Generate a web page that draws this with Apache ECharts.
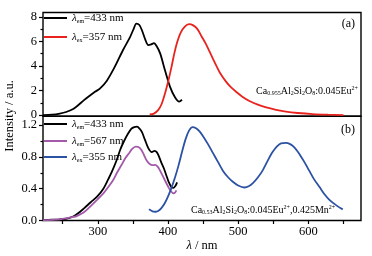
<!DOCTYPE html>
<html><head><meta charset="utf-8">
<script src="https://cdn.jsdelivr.net/npm/echarts@6/dist/echarts.min.js"></script>
<style>html,body{margin:0;padding:0;background:#fff}#c{width:372px;height:256px}</style>
</head><body><div id="c"></div>
<script>
// Panel (a): Ca0.955Al2Si2O8:0.045Eu2+
const aEmX = [222,235,246,255,265,272,280,289,296,303,313,324,336,346,351,355,359,363,368,372,376,380,384,389,396,403,410,416,420];
const aEmY = [0,0.03,0.12,0.25,0.5,0.8,1.2,1.6,1.9,2.15,2.8,3.9,5.3,6.35,7.0,7.45,7.35,6.9,6.1,5.7,5.75,5.85,5.6,5.0,3.6,2.3,1.45,1.1,1.25];
const aExX = [374,380,386,391,396,401,405,409,413,418,424,430,436,442,448,454,459,464,469,474,483,490,497,506,516,528,540,554,568,585,606,628,650];
const aExY = [0.05,0.12,0.4,0.9,1.8,2.9,3.9,5.0,5.9,6.7,7.2,7.4,7.3,7.0,6.4,5.8,5.2,4.6,4.0,3.45,2.7,2.25,1.9,1.5,1.15,0.85,0.62,0.43,0.28,0.17,0.08,0.03,0.0];
// Panel (b): Ca0.53Al2Si2O8:0.045Eu2+,0.425Mn2+
const bEm433X = [222,235,246,256,265,272,280,290,299,308,315,320,327,332,337,343,348,352,356,360,363,367,372,377,381,384,387,390,394,398,401,405,408,411,413];
const bEm433Y = [0.005,0.01,0.015,0.025,0.05,0.09,0.15,0.23,0.30,0.40,0.52,0.61,0.76,0.89,0.99,1.09,1.155,1.175,1.18,1.15,1.11,1.02,0.91,0.86,0.875,0.86,0.81,0.74,0.66,0.56,0.485,0.42,0.41,0.44,0.48];
const bEm567X = [222,240,256,265,270,278,284,291,299,308,315,322,328,334,339,344,349,354,358,362,366,370,374,378,382,385,388,392,396,400,404,408,410,412];
const bEm567Y = [0.003,0.01,0.03,0.045,0.056,0.09,0.13,0.19,0.26,0.34,0.42,0.51,0.61,0.70,0.78,0.84,0.9,0.93,0.925,0.89,0.82,0.75,0.71,0.695,0.70,0.68,0.64,0.57,0.50,0.43,0.37,0.34,0.35,0.38];
const bEx355X = [373,378,382,386,390,395,400,405,410,415,420,425,430,435,440,445,450,457,464,471,478,485,492,500,509,515,521,528,535,542,549,555,561,568,574,580,587,594,601,608,616,623,630,640,649];
const bEx355Y = [0.14,0.115,0.11,0.12,0.15,0.21,0.30,0.41,0.54,0.69,0.86,1.02,1.13,1.175,1.16,1.12,1.06,0.96,0.85,0.74,0.63,0.55,0.49,0.44,0.415,0.43,0.47,0.54,0.63,0.75,0.86,0.93,0.97,0.975,0.96,0.92,0.84,0.74,0.63,0.52,0.42,0.33,0.26,0.19,0.14];

const xTickLabels = [300,400,500,600];
const xTicks = [250,300,350,400,450,500,550,600,650];
const aYLabels = [0,2,4,6,8];
const aYMinor = [1,3,5,7];
const bYLabels = [0,0.4,0.8,1.2];
const bYMinor = [0.2,0.6,1.0];

const zip = (xs, ys) => xs.map((x, i) => [x, ys[i]]);
const FF = '"Liberation Serif", "DejaVu Serif", serif';
const chart = echarts.init(document.getElementById('c'), null, {renderer: 'canvas'});

const legendRich = {
  i: {fontStyle: 'italic', fontFamily: FF, fontSize: 11, lineHeight: 12, verticalAlign: 'bottom'},
  s: {fontFamily: FF, fontSize: 6, lineHeight: 6, verticalAlign: 'bottom'},
  t: {fontFamily: FF, fontSize: 11, lineHeight: 12, verticalAlign: 'bottom'}
};
const legendNames = {
  'aEm': '{i|λ}{s|em}{t|=433 nm}',
  'aEx': '{i|λ}{s|ex}{t|=357 nm}',
  'bEm433': '{i|λ}{s|em}{t|=433 nm}',
  'bEm567': '{i|λ}{s|em}{t|=567 nm}',
  'bEx355': '{i|λ}{s|ex}{t|=355 nm}'
};
function mkLegend(name, top) {
  return {
    data: [name], left: 44, top: top, icon: 'rect', itemWidth: 23, itemHeight: 2,
    padding: 0, itemGap: 4, selectedMode: false,
    formatter: n => legendNames[n],
    textStyle: {fontFamily: FF, fontSize: 11, color: '#000', rich: legendRich}
  };
}

const yLabelStyle = {fontFamily: FF, fontSize: 12.5, color: '#000', margin: 6};
const commonX = {type: 'value', min: 222, max: 675, splitLine: {show: false}, axisLine: {show: false}};

const fRich = {
  b: {fontFamily: FF, fontSize: 10, lineHeight: 11, verticalAlign: 'bottom'},
  sub: {fontFamily: FF, fontSize: 6, lineHeight: 6, verticalAlign: 'bottom'},
  sup: {fontFamily: FF, fontSize: 6, lineHeight: 6, verticalAlign: 'top'}
};

const lineSeries = (name, data, color, xi, yi) => ({
  name, type: 'line', data, xAxisIndex: xi, yAxisIndex: yi, smooth: 0.3,
  showSymbol: false, symbol: 'none', lineStyle: {color, width: 1.8}, itemStyle: {color},
  silent: true, animation: false
});

chart.setOption({
  backgroundColor: '#fff',
  animation: false,
  grid: [
    {left: 43, right: 11, top: 12.5, height: 103.8, show: true, borderColor: '#000', borderWidth: 1.4, backgroundColor: 'transparent'},
    {left: 43, right: 11, top: 116.3, bottom: 35.5, show: true, borderColor: '#000', borderWidth: 1.4, backgroundColor: 'transparent'}
  ],
  xAxis: [
    Object.assign({}, commonX, {gridIndex: 0, axisLabel: {show: false}, axisTick: {show: false}}),
    Object.assign({}, commonX, {gridIndex: 1,
      axisLabel: {customValues: xTickLabels, fontFamily: FF, fontSize: 12.5, color: '#000', margin: 5},
      axisTick: {customValues: xTicks, length: 3.5, lineStyle: {color: '#000', width: 1.2}},
      name: '{i|λ} / nm', nameLocation: 'middle', nameGap: 17,
      nameTextStyle: {fontFamily: FF, fontSize: 12.5, color: '#000', rich: {i: {fontStyle: 'italic', fontFamily: FF, fontSize: 12.5}}}
    })
  ],
  yAxis: [
    {type: 'value', gridIndex: 0, position: 'left', min: -0.1, max: 8.35, splitLine: {show: false}, axisLine: {show: false},
     axisLabel: Object.assign({customValues: aYLabels, formatter: v => String(Math.round(v))}, yLabelStyle),
     axisTick: {customValues: aYLabels, length: 4, lineStyle: {color: '#000', width: 1.2}}},
    {type: 'value', gridIndex: 1, position: 'left', min: 0, max: 1.31, splitLine: {show: false}, axisLine: {show: false},
     axisLabel: Object.assign({customValues: bYLabels, formatter: v => v.toFixed(1)}, yLabelStyle),
     axisTick: {customValues: bYLabels, length: 4, lineStyle: {color: '#000', width: 1.2}}},
    {type: 'value', gridIndex: 0, position: 'left', offset: 0, min: -0.1, max: 8.35, splitLine: {show: false}, axisLine: {show: false},
     axisLabel: {show: false}, axisTick: {customValues: aYMinor, length: 2.5, lineStyle: {color: '#000', width: 1.2}}},
    {type: 'value', gridIndex: 1, position: 'left', offset: 0, min: 0, max: 1.31, splitLine: {show: false}, axisLine: {show: false},
     axisLabel: {show: false}, axisTick: {customValues: bYMinor, length: 2.5, lineStyle: {color: '#000', width: 1.2}}}
  ],
  legend: [
    mkLegend('aEm', 13), mkLegend('aEx', 32),
    mkLegend('bEm433', 119), mkLegend('bEm567', 136), mkLegend('bEx355', 152)
  ],
  series: [
    lineSeries('aEm', zip(aEmX, aEmY), '#000000', 0, 0),
    lineSeries('aEx', zip(aExX, aExY), '#e8231e', 0, 0),
    lineSeries('bEm433', zip(bEm433X, bEm433Y), '#000000', 1, 1),
    lineSeries('bEm567', zip(bEm567X, bEm567Y), '#a35aa8', 1, 1),
    lineSeries('bEx355', zip(bEx355X, bEx355Y), '#2b52a3', 1, 1)
  ],
  graphic: [
    {type: 'text', x: 10, y: 116, rotation: Math.PI / 2,
     style: {text: 'Intensity / a.u.', fontFamily: FF, fontSize: 12.5, fill: '#000', align: 'center', verticalAlign: 'middle'}},
    {type: 'text', x: 355, y: 24, style: {text: '(a)', fontFamily: FF, fontSize: 12, fill: '#000', align: 'right', verticalAlign: 'middle'}},
    {type: 'text', x: 355, y: 130, style: {text: '(b)', fontFamily: FF, fontSize: 12, fill: '#000', align: 'right', verticalAlign: 'middle'}},
    {type: 'text', x: 358, y: 91, style: {text: '{b|Ca}{sub|0.955}{b|Al}{sub|2}{b|Si}{sub|2}{b|O}{sub|8}{b|:0.045Eu}{sup|2+}', rich: fRich, fontFamily: FF, fontSize: 10, fill: '#000', align: 'right', verticalAlign: 'middle'}},
    {type: 'text', x: 191, y: 210, style: {text: '{b|Ca}{sub|0.53}{b|Al}{sub|2}{b|Si}{sub|2}{b|O}{sub|8}{b|:0.045Eu}{sup|2+}{b|,0.425Mn}{sup|2+}', rich: fRich, fontFamily: FF, fontSize: 10, fill: '#000', align: 'left', verticalAlign: 'middle'}}
  ]
});
</script>
</body></html>
